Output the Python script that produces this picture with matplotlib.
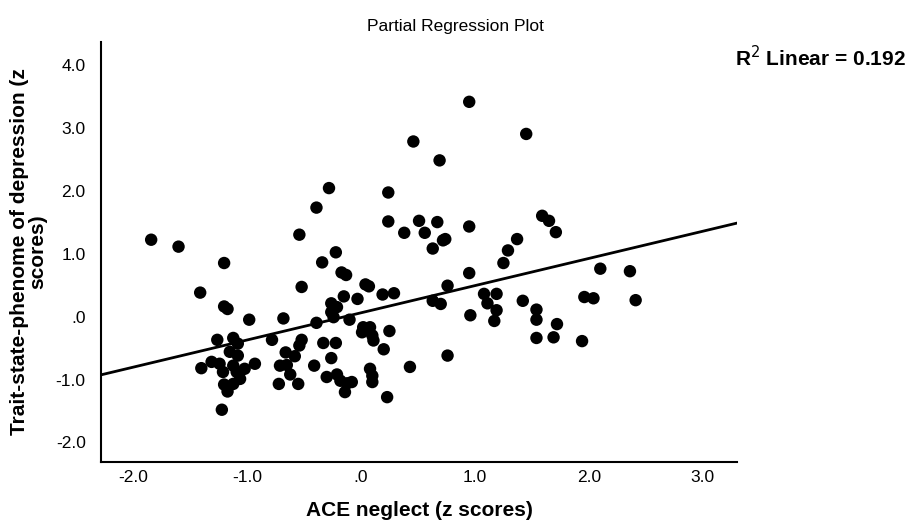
import matplotlib.pyplot as plt
from matplotlib.ticker import FuncFormatter

plt.rcParams['font.family'] = ['Liberation Sans', 'DejaVu Sans']

# points (x = ACE neglect, y = depression, both z scores)
ace_neglect = [
    -1.84, -1.60, -0.54, -1.20, -1.41, -0.52, -1.20, -1.17, -0.98, -0.68,
    -1.26, -1.12, -1.08, -1.15, -1.08, -1.40, -1.31, -1.24, -1.21, -1.12,
    -1.09, -1.02, -0.93, -1.06, -1.20, -1.12, -1.17, -1.22, -0.78, -0.52,
    -0.54, -0.66, -0.58, -0.71, -0.65, -0.62, -0.72, -0.55, -0.41,
    -0.28, 0.24, -0.39, 0.24, 0.51, 0.67, 0.38, 0.56, 0.72, 0.74,
    0.63, -0.22, -0.34, -0.17, -0.13, 0.04, 0.07, -0.15, -0.03, 0.19,
    0.29, 0.76, -0.26, -0.21, -0.26, -0.24, -0.39, -0.10, 0.63, 0.70,
    0.02, 0.08, 0.01, 0.10, 0.11, 0.25, 0.20, -0.33, -0.22, -0.26,
    -0.30, -0.21, -0.18, -0.12, -0.08, -0.14, 0.08, 0.10, 0.10, 0.23,
    0.43, 0.76,
    0.95, 1.45, 0.46, 0.69, 0.95, 1.59, 1.65, 1.71, 1.37, 1.29,
    1.25, 0.95, 1.08, 1.19, 1.11, 1.19, 1.17, 0.96, 1.42, 1.54,
    1.54, 1.72, 1.54, 1.69, 2.10, 2.36, 1.96, 2.04, 2.41, 1.94,
]
depression = [
    1.22, 1.11, 1.30, 0.85, 0.38, 0.47, 0.16, 0.12, -0.05, -0.03,
    -0.37, -0.34, -0.43, -0.56, -0.62, -0.82, -0.72, -0.75, -0.88, -0.78,
    -0.88, -0.83, -0.75, -0.99, -1.08, -1.07, -1.19, -1.48, -0.37, -0.37,
    -0.46, -0.57, -0.63, -0.78, -0.77, -0.92, -1.07, -1.07, -0.78,
    2.04, 1.97, 1.73, 1.51, 1.52, 1.50, 1.33, 1.33, 1.21, 1.23,
    1.08, 1.02, 0.86, 0.70, 0.66, 0.51, 0.48, 0.32, 0.28, 0.35,
    0.37, 0.49, 0.21, 0.15, 0.07, -0.01, -0.10, -0.05, 0.25, 0.20,
    -0.17, -0.17, -0.25, -0.30, -0.38, -0.23, -0.52, -0.42, -0.42, -0.66,
    -0.96, -0.92, -1.02, -1.06, -1.04, -1.20, -0.83, -0.94, -1.04, -1.28,
    -0.80, -0.62,
    3.41, 2.90, 2.78, 2.48, 1.43, 1.60, 1.52, 1.34, 1.23, 1.05,
    0.85, 0.69, 0.36, 0.36, 0.21, 0.10, -0.07, 0.02, 0.25, 0.11,
    -0.05, -0.12, -0.34, -0.33, 0.76, 0.72, 0.31, 0.29, 0.26, -0.39,
]

# fit line as drawn in the reference
fit_slope = 0.432
fit_intercept = 0.059
r_squared = 0.192

xticks = [-2.0, -1.0, 0.0, 1.0, 2.0, 3.0]
yticks = [-2.0, -1.0, 0.0, 1.0, 2.0, 3.0, 4.0]
xlim = (-2.28, 3.30)
ylim = (-2.31, 4.36)

fig = plt.figure(figsize=(9.1, 5.25), dpi=100)
ax = fig.add_axes([0.111, 0.12, 0.699, 0.80])

ax.scatter(ace_neglect, depression, s=80, color='black', edgecolors='none', zorder=3)
ax.plot(list(xlim), [fit_intercept + fit_slope * x for x in xlim], color='black', lw=2, zorder=2)

ax.set_xlim(*xlim)
ax.set_ylim(*ylim)
ax.set_xticks(xticks)
ax.set_yticks(yticks)

def spss_fmt(v, pos):
    s = '%.1f' % v
    if s in ('0.0', '-0.0'):
        return '.0'
    return s

ax.xaxis.set_major_formatter(FuncFormatter(spss_fmt))
ax.yaxis.set_major_formatter(FuncFormatter(spss_fmt))
ax.tick_params(length=0, labelsize=12.5, colors='black')
ax.tick_params(axis='x', pad=6)
ax.tick_params(axis='y', pad=11)

for side in ('top', 'right'):
    ax.spines[side].set_visible(False)
for side in ('left', 'bottom'):
    ax.spines[side].set_linewidth(1.5)
    ax.spines[side].set_color('black')

ax.set_xlabel('ACE neglect (z scores)', fontsize=15, fontweight='bold', labelpad=11)
ax.set_ylabel('Trait-state-phenome of depression (z\nscores)', fontsize=15,
              fontweight='bold', labelpad=6, linespacing=0.95)

fig.text(0.5, 0.949, 'Partial Regression Plot', ha='center', va='center', fontsize=12.5)
fig.text(0.995, 0.891, 'R$^2$ Linear = %.3f' % r_squared, ha='right', va='center',
         fontsize=15, fontweight='bold')

fig.savefig('out.png', dpi=100)
